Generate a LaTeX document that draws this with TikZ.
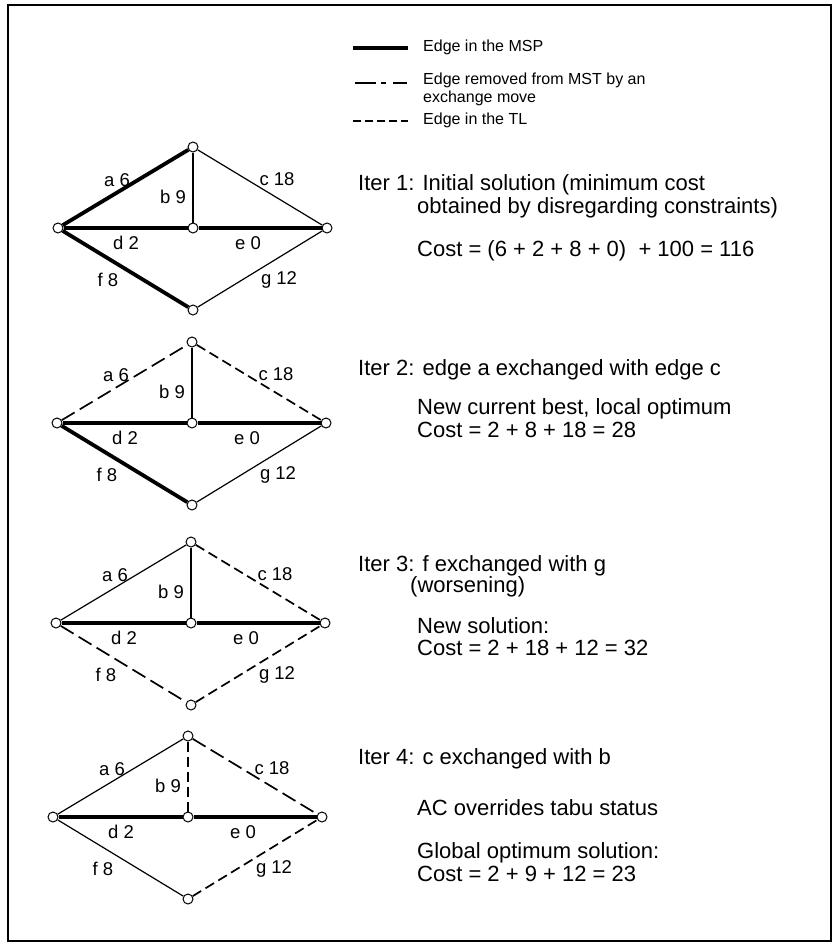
\documentclass[tikz,border=0pt]{standalone}
\usepackage{fontspec}
\setmainfont{Liberation Sans}
\begin{document}
\begin{tikzpicture}[x=1pt,y=-1pt,
  vtx/.style={circle,draw,fill=white,line width=1pt,minimum size=10pt,inner sep=0pt},
  msp/.style={line width=3.8pt},
  plain/.style={line width=1.2pt},
  tl/.style={line width=1.7pt,dash pattern=on 10pt off 5pt},
  rem/.style={line width=1.7pt,dash pattern=on 15pt off 6pt},
  lab/.style={font=\fontsize{18.5}{18.5}\selectfont,inner sep=0pt},
  txt/.style={font=\fontsize{22}{22}\selectfont,anchor=west,inner sep=0pt},
  leg/.style={font=\fontsize{16}{18}\selectfont,anchor=west,inner sep=0pt,align=left},
  ea/.style={plain},eb/.style={plain},ec/.style={plain},ed/.style={msp},
  ee/.style={msp},ef/.style={plain},eg/.style={plain}]
\useasboundingbox (0,0) rectangle (833,947);
\draw[line width=2pt] (8,5) rectangle (831,941);

\newcommand\tsgraph[2]{%
\begin{scope}[shift={#2}]
\node[vtx] (T#1) at (0,0) {};
\node[vtx] (L#1) at (-135,81) {};
\node[vtx] (C#1) at (0,81) {};
\node[vtx] (R#1) at (134,81) {};
\node[vtx] (B#1) at (0,163) {};
\draw[ea] (L#1) -- (T#1);
\draw[eb] (T#1) -- (C#1);
\draw[ec] (T#1) -- (R#1);
\draw[ed] (L#1) -- (C#1);
\draw[ee] (C#1) -- (R#1);
\draw[ef] (L#1) -- (B#1);
\draw[eg] (B#1) -- (R#1);
\node[lab] (la#1) at (-76,33) {a 6};
\node[lab] (lb#1) at (-20,50) {b 9};
\node[lab] (lc#1) at (84,32) {c 18};
\node[lab] (ld#1) at (-67,96) {d 2};
\node[lab] (le#1) at (55,96) {e 0};
\node[lab] (lf#1) at (-85,133) {f 8};
\node[lab] (lg#1) at (86,133) {g 12};
\end{scope}}

% legend
\coordinate (m1) at (353,48); \coordinate (m2) at (408,48);
\draw[line width=4.5pt] (m1) -- (m2);
\node[leg] (lm) at (423,47) {Edge in the MSP};
\coordinate (r1) at (355,83); \coordinate (r2) at (408,83);
\draw[line width=1.7pt,dash pattern=on 21pt off 5pt on 5pt off 7pt on 14pt] (r1) -- (r2);
\node[leg] (lr) at (423,89) {Edge removed from MST by an\\exchange move};
\coordinate (t1) at (353,121); \coordinate (t2) at (408,121);
\draw[line width=1.7pt,dash pattern=on 8pt off 4pt] (t1) -- (t2);
\node[leg] (lt) at (423,120) {Edge in the TL};

% graphs
\begin{scope}[ea/.style={msp},ef/.style={msp}]
\tsgraph{1}{(193,147)}
\end{scope}
\begin{scope}[ea/.style={rem},ec/.style={tl},ef/.style={msp}]
\tsgraph{2}{(192,342)}
\end{scope}
\begin{scope}[ec/.style={tl},ef/.style={rem},eg/.style={tl}]
\tsgraph{3}{(191,542)}
\end{scope}
\begin{scope}[eb/.style={tl},ec/.style={rem},eg/.style={tl}]
\tsgraph{4}{(188,736)}
\end{scope}

% texts
\node[txt] (i1a) at (358,185) {Iter 1: Initial solution (minimum cost};
\node[txt] (i1b) at (417,208) {obtained by disregarding constraints)};
\node[txt] (i1c) at (417,251) {Cost = (6 + 2 + 8 + 0)\ \ + 100 = 116};
\node[txt] (i2a) at (358,370) {Iter 2: edge a exchanged with edge c};
\node[txt] (i2b) at (417,409) {New current best, local optimum};
\node[txt] (i2c) at (417,430) {Cost = 2 + 8 + 18 = 28};
\node[txt] (i3a) at (358,566) {Iter 3: f exchanged with g};
\node[txt] (i3b) at (410,587) {(worsening)};
\node[txt] (i3c) at (417,626) {New solution:};
\node[txt] (i3d) at (417,647.5) {Cost = 2 + 18 + 12 = 32};
\node[txt] (i4a) at (358,759) {Iter 4: c exchanged with b};
\node[txt] (i4b) at (417,808) {AC overrides tabu status};
\node[txt] (i4c) at (417,853) {Global optimum solution:};
\node[txt] (i4d) at (417,874) {Cost = 2 + 9 + 12 = 23};
\end{tikzpicture}
\end{document}
